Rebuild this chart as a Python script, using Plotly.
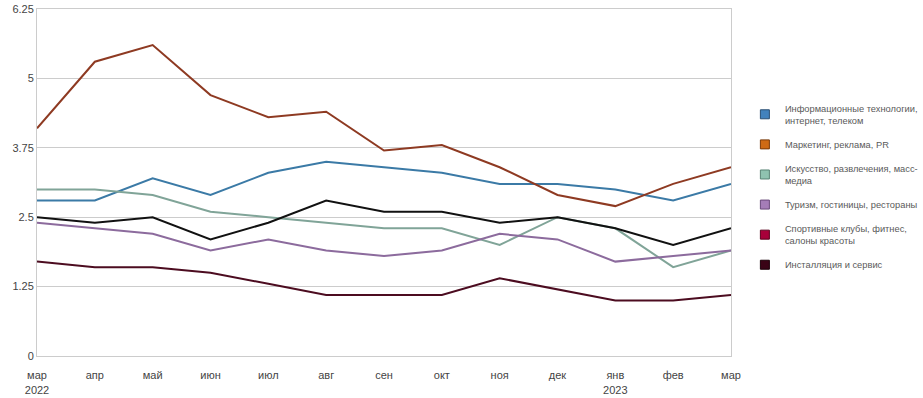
import plotly.graph_objects as go

months = ["мар<br>2022", "апр", "май", "июн", "июл", "авг", "сен", "окт", "ноя", "дек", "янв<br>2023", "фев", "мар"]
y_ticks = [0, 1.25, 2.5, 3.75, 5, 6.25]
y_tick_text = ["0", "1.25", "2.5", "3.75", "5", "6.25"]

series_names = [
    "Информационные технологии,<br>интернет, телеком",
    "Маркетинг, реклама, PR",
    "Искусство, развлечения, масс-<br>медиа",
    "Туризм, гостиницы, рестораны",
    "Спортивные клубы, фитнес,<br>салоны красоты",
    "Инсталляция и сервис",
]

it_values = [2.8, 2.8, 3.2, 2.9, 3.3, 3.5, 3.4, 3.3, 3.1, 3.1, 3.0, 2.8, 3.1]
marketing_values = [4.1, 5.3, 5.6, 4.7, 4.3, 4.4, 3.7, 3.8, 3.4, 2.9, 2.7, 3.1, 3.4]
arts_values = [3.0, 3.0, 2.9, 2.6, 2.5, 2.4, 2.3, 2.3, 2.0, 2.5, 2.3, 1.6, 1.9]
tourism_values = [2.4, 2.3, 2.2, 1.9, 2.1, 1.9, 1.8, 1.9, 2.2, 2.1, 1.7, 1.8, 1.9]
sports_values = [1.7, 1.6, 1.6, 1.5, 1.3, 1.1, 1.1, 1.1, 1.4, 1.2, 1.0, 1.0, 1.1]
install_values = [2.5, 2.4, 2.5, 2.1, 2.4, 2.8, 2.6, 2.6, 2.4, 2.5, 2.3, 2.0, 2.3]

all_values = [it_values, marketing_values, arts_values, tourism_values, sports_values, install_values]
line_colors = ["#3b7aa6", "#8e3a22", "#80a498", "#8c6b9d", "#4c0c20", "#111111"]
legend_colors = ["#4282bd", "#cf6a14", "#8fc3b0", "#a57db7", "#a8003a", "#3a0416"]
legend_edge = ["#2a4f73", "#7a3a08", "#5a8576", "#6a4a7a", "#5a001e", "#1a0008"]

x_idx = list(range(len(months)))

fig = go.Figure()
for i, (name, vals) in enumerate(zip(series_names, all_values)):
    fig.add_trace(go.Scatter(
        x=x_idx, y=vals, mode="lines", name=name,
        line=dict(color=line_colors[i], width=2),
        showlegend=False, legendgroup=f"g{i}", hoverinfo="skip",
    ))
for i, name in enumerate(series_names):
    fig.add_trace(go.Scatter(
        x=[None], y=[None], mode="markers", name=name,
        marker=dict(symbol="square", size=9, color=legend_colors[i],
                    line=dict(color=legend_edge[i], width=1)),
        legendgroup=f"g{i}", showlegend=True,
    ))

fig.update_layout(
    width=923, height=398,
    margin=dict(l=37, r=192, t=9, b=42, autoexpand=False),
    paper_bgcolor="white", plot_bgcolor="white",
    font=dict(family="Liberation Sans, Arial, sans-serif", size=11, color="#444444"),
    showlegend=True,
    legend=dict(
        x=1.02, xanchor="left", y=0.485, yanchor="middle",
        xref="paper", yref="paper",
        font=dict(size=9.3, color="#5a5a5a"),
        tracegroupgap=7, itemwidth=30,
        bgcolor="rgba(0,0,0,0)",
    ),
    xaxis=dict(
        range=[0, 12], tickvals=x_idx, ticktext=months,
        showgrid=False, zeroline=False, automargin=False,
        showline=True, linecolor="#cccccc", linewidth=1, mirror=True,
        ticks="", ticklabelstandoff=9, tickfont=dict(size=11, color="#444444"),
    ),
    yaxis=dict(
        range=[0, 6.25], tickvals=y_ticks, ticktext=y_tick_text,
        showgrid=True, gridcolor="#cccccc", gridwidth=1,
        zeroline=False, automargin=False,
        showline=True, linecolor="#cccccc", linewidth=1, mirror=True,
        ticks="", tickfont=dict(size=11, color="#444444"),
    ),
)
fig.write_html(
    "out.html",
    config={"displayModeBar": False, "staticPlot": True},
    post_script="document.body.style.margin='0';document.body.style.overflow='hidden';",
)
